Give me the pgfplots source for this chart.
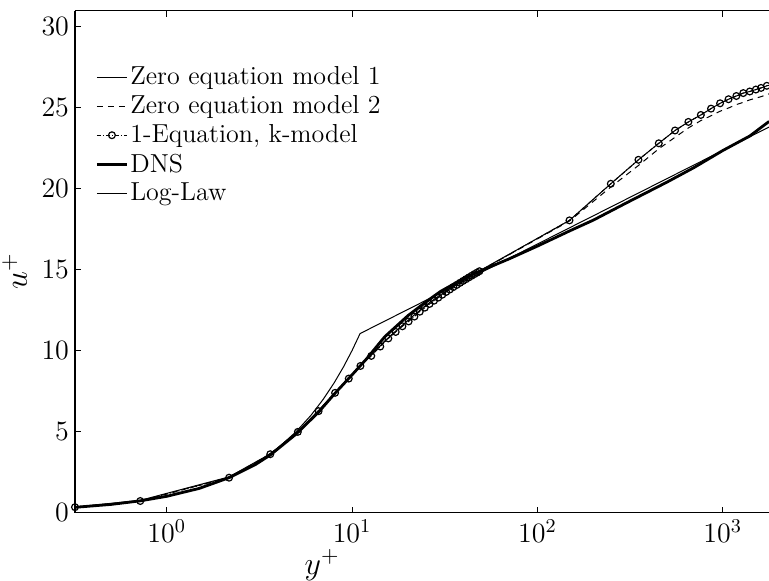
\RequirePackage{fix-cm}
\documentclass[border=0pt]{standalone}
\usepackage{pgfplots}
\pgfplotsset{compat=1.18}

\pgfplotstableread{
y u
0.32 0.32
0.5 0.5
0.72 0.72
1.0 1.0
1.5 1.49
2.17 2.15
3.0 2.95
3.62 3.55
5.0 4.85
6.6 6.2
8.0 7.3
10 8.5
12 9.5
15 10.85
20 12.15
25 13.0
30 13.65
40 14.45
50 14.95
70 15.65
100 16.45
150 17.4
200 18.05
300 19.1
500 20.4
700 21.3
1000 22.35
1400 23.25
1780 24.15
}\dns

\pgfplotstableread{
y u
0.32 0.32
0.5 0.5
0.7 0.7
1 1
1.5 1.5
2 2
3 3
4 4
5 5
6 6
7 7
8 8
9 9
10 10
11.05 11.05
1778 23.8
}\loglaw

\pgfplotstableread{
y u
0.32 0.33
0.72 0.71
2.17 2.15
3.62 3.60
5.10 4.98
6.60 6.26
8.10 7.39
9.60 8.27
11.1 9.05
12.7 9.67
14.2 10.25
15.7 10.75
17.2 11.15
18.7 11.50
20.2 11.80
21.7 12.10
23.2 12.40
24.7 12.65
26.2 12.88
27.7 13.08
29.2 13.27
30.7 13.45
32.2 13.62
33.7 13.77
35.2 13.92
36.7 14.05
38.2 14.18
39.7 14.30
41.2 14.41
42.7 14.52
44.2 14.62
45.7 14.72
47.2 14.81
48.7 14.90
149 18.04
249 20.30
351 21.78
452 22.80
553 23.59
653 24.12
762 24.55
865 24.94
968 25.27
1075 25.52
1185 25.72
1291 25.90
1400 26.00
1510 26.12
1610 26.22
1730 26.35
}\oneeq

\pgfplotstableread{
y u
0.32 0.34
0.72 0.75
2.17 2.2
3.62 3.62
5.1 5.0
6.6 6.3
8.1 7.4
9.6 8.3
11.1 9.1
12.7 9.72
15.7 10.8
20.2 11.9
24.7 12.75
29.2 13.35
35.2 13.95
41.2 14.45
48.7 14.92
149 18.04
249 20.30
351 21.78
452 22.80
553 23.59
653 24.12
762 24.55
865 24.94
968 25.27
1075 25.52
1185 25.72
1291 25.90
1400 26.00
1510 26.12
1610 26.22
1730 26.35
1778 26.38
}\zeroone

\pgfplotstableread{
y u
0.32 0.32
0.72 0.72
2.17 2.17
3.62 3.6
5.1 5.0
6.6 6.3
8.1 7.4
9.6 8.3
11.1 9.1
12.7 9.75
15.7 10.8
20.2 11.85
24.7 12.7
29.7 13.35
35.2 13.95
41.2 14.45
48.7 14.9
149 18.0
249 20.1
351 21.43
452 22.46
553 23.17
653 23.75
762 24.20
865 24.50
968 24.78
1075 24.98
1185 25.19
1291 25.33
1400 25.48
1610 25.68
1778 25.85
}\zerotwo

\begin{document}
\begin{tikzpicture}
\begin{axis}[
  scale only axis, width=347pt, height=251pt,
  xmode=log, log basis x=10,
  xmin=0.32, xmax=1778, ymin=0, ymax=31,
  ytick={0,5,...,30},
  xtick={1,10,100,1000},
  axis x line*=box, axis y line*=left,
  tick align=inside,
  major tick length=3pt, minor tick length=1.6pt,
  tick style={black, line width=0.4pt},
  axis line style={line width=0.6pt},
  tick label style={font=\fontsize{14}{15}\selectfont},
  yticklabel style={xshift=0.5pt},
  label style={font=\fontsize{16}{18}\selectfont},
  xlabel={$y^+$}, ylabel={$u^+$},
  xlabel style={at={(axis description cs:0.356,-0.1046)}, anchor=center},
  ylabel style={at={(axis description cs:-0.087,0.48)}, anchor=center},
  legend style={draw=none, fill=none, at={(axis description cs:0.029,0.893)}, anchor=north west,
    font=\fontsize{13}{14}\selectfont, row sep=2pt, inner sep=0pt,
    nodes={inner sep=1pt}},
  legend cell align=left,
  legend image code/.code={\draw[mark repeat=2,mark phase=2,#1] plot coordinates {(0pt,0pt) (7.5pt,0pt) (15pt,0pt)};},
]
\addplot[black, line width=0.5pt] table[x=y,y=u] {\zeroone};
\addlegendentry{Zero equation model 1}
\addplot[black, line width=0.5pt, dash pattern=on 3pt off 2.5pt] table[x=y,y=u] {\zerotwo};
\addlegendentry{Zero equation model 2}
\addplot[black, line width=0.5pt, dash pattern=on 2pt off 1pt on 0.5pt off 1pt, mark=o, mark size=1.7pt, mark options={solid, line width=0.6pt}] table[x=y,y=u] {\oneeq};
\addlegendentry{1-Equation, k-model}
\addplot[black, line width=1.4pt] table[x=y,y=u] {\dns};
\addlegendentry{DNS}
\addplot[black, line width=0.5pt] table[x=y,y=u] {\loglaw};
\addlegendentry{Log-Law}
\end{axis}
\pgfresetboundingbox
\path ([shift={(-37.5pt,-33.75pt)}]current axis.south west) rectangle ++(384.5pt,290pt);
\end{tikzpicture}
\end{document}
